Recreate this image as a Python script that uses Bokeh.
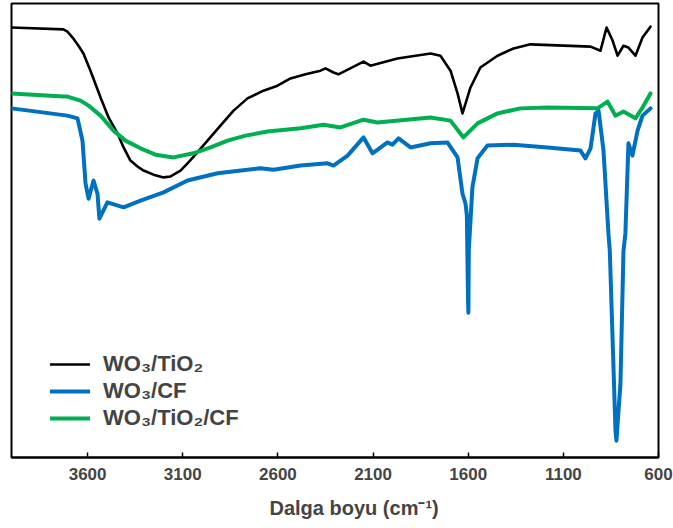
from bokeh.plotting import figure
from bokeh.models import Range1d, FixedTicker, Legend, LegendItem, Title
from bokeh.embed import file_html
from bokeh.resources import INLINE

# Wavenumber (cm-1) and transmittance (a.u.)
wn_tio2 = [4000, 3727, 3706, 3679, 3648, 3622, 3585, 3532, 3490, 3443, 3411, 3375, 3338,
           3306, 3254, 3201, 3164, 3112, 3075, 3023, 2970, 2902, 2833, 2760, 2676, 2602,
           2534, 2455, 2376, 2350, 2308, 2282, 2150, 2114, 1972, 1798, 1746, 1693, 1656,
           1630, 1588, 1536, 1446, 1362, 1273, 957, 905, 873, 842, 815, 784, 758, 721, 684, 642]
t_tio2 = [94.7, 94.3, 93.8, 92.5, 90.7, 89.0, 85.2, 79.3, 74.9, 71.4, 68.3, 65.4, 64.1,
          63.2, 62.3, 61.7, 61.9, 63.2, 64.8, 67.2, 69.8, 73.1, 76.4, 79.1, 80.8, 81.9,
          83.5, 84.4, 85.2, 85.7, 84.8, 84.4, 87.2, 86.3, 87.9, 89.0, 88.5, 85.2, 80.2,
          75.8, 81.5, 85.9, 88.5, 90.1, 91.0, 90.5, 89.6, 94.7, 91.9, 88.5, 90.7, 90.3, 88.5, 92.5, 94.9]

wn_cf = [4000, 3706, 3653, 3627, 3611, 3595, 3569, 3548, 3538, 3496, 3411, 3322, 3201,
         3075, 2917, 2692, 2623, 2481, 2339, 2308, 2234, 2150, 2103, 2024, 1998, 1966,
         1903, 1798, 1709, 1656, 1630, 1614, 1607, 1601, 1599, 1597, 1578, 1551, 1499,
         1362, 1183, 1010, 984, 957, 931, 915, 889, 863, 856, 826, 821, 800, 784, 774,
         758, 737, 710, 684, 642]
t_cf = [76.9, 75.3, 74.7, 69.8, 60.4, 57.0, 61.0, 58.1, 52.6, 56.2, 55.1, 56.6, 58.4,
        61.0, 62.6, 63.7, 63.4, 64.3, 64.8, 64.3, 66.5, 70.5, 67.0, 69.4, 68.9, 70.3,
        68.3, 69.2, 69.4, 66.1, 58.1, 55.9, 53.3, 34.6, 31.9, 45.6, 59.5, 65.9, 68.7,
        68.9, 68.3, 67.6, 65.9, 68.1, 75.8, 76.4, 67.6, 49.3, 45.6, 5.9, 3.7, 16.3, 45.6, 49.3,
        69.2, 66.5, 72.0, 75.3, 76.9]

wn_tio2_cf = [4000, 3727, 3706, 3637, 3595, 3532, 3464, 3401, 3322, 3243, 3149, 3044,
              2954, 2865, 2770, 2655, 2481, 2360, 2271, 2150, 2077, 1798, 1693, 1625, 1551,
              1446, 1325, 1183, 921, 868, 826, 784, 721, 684, 642]
t_tio2_cf = [80.2, 79.5, 79.5, 78.6, 77.5, 75.3, 72.0, 69.8, 68.1, 66.7, 66.1, 67.0,
             68.3, 69.8, 70.9, 71.8, 72.5, 73.3, 72.7, 74.4, 73.8, 74.9, 74.2, 70.5, 73.6,
             75.8, 76.9, 77.1, 76.9, 78.4, 75.3, 76.2, 74.7, 77.1, 80.2]

x_ticks = [3600, 3100, 2600, 2100, 1600, 1100, 600]
labels = ["WO\u2083/TiO\u2082", "WO\u2083/CF", "WO\u2083/TiO\u2082/CF"]
x_title = "Dalga boyu (cm\u207B\u00B9)"
colors = ["#000000", "#0070C0", "#00B050"]
widths = [2.6, 4, 4]

FONT = "Liberation Sans"

p = figure(frame_width=647, frame_height=454, output_backend="svg", toolbar_location=None,
           x_range=Range1d(4000, 600), y_range=Range1d(0, 100),
           min_border_left=11, min_border_right=15, min_border_top=3, min_border_bottom=0)

series = [(wn_tio2, t_tio2), (wn_cf, t_cf), (wn_tio2_cf, t_tio2_cf)]
renderers = []
for (xs, ys), c, w in zip(series, colors, widths):
    r = p.line(xs, ys, line_color=c, line_width=w, line_join="round", line_cap="round")
    renderers.append(r)

p.xgrid.visible = False
p.ygrid.visible = False
p.yaxis.visible = False
p.outline_line_color = "black"
p.outline_line_width = 2
p.outline_line_alpha = 1

ax = p.xaxis[0]
ax.ticker = FixedTicker(ticks=x_ticks)
ax.minor_tick_line_color = None
ax.major_tick_in = 5
ax.major_tick_out = 0
ax.major_tick_line_width = 1.5
ax.axis_line_width = 2
ax.major_label_text_font = FONT
ax.major_label_text_font_style = "bold"
ax.major_label_text_font_size = "17px"
ax.major_label_standoff = 10

title = Title(text=x_title, align="left", offset=258, text_font=FONT,
              text_font_style="bold", text_font_size="20px", standoff=25)
p.add_layout(title, "below")

legend = Legend(items=[LegendItem(label=l, renderers=[r]) for l, r in zip(labels, renderers)],
                location=(39, 26), padding=0, margin=0, spacing=1,
                glyph_width=40, glyph_height=20, label_standoff=13,
                label_text_font=FONT, label_text_font_style="bold",
                label_text_font_size="22px", border_line_color=None,
                background_fill_alpha=0)
p.add_layout(legend, "center")

open("out.html", "w").write(file_html(p, INLINE))
